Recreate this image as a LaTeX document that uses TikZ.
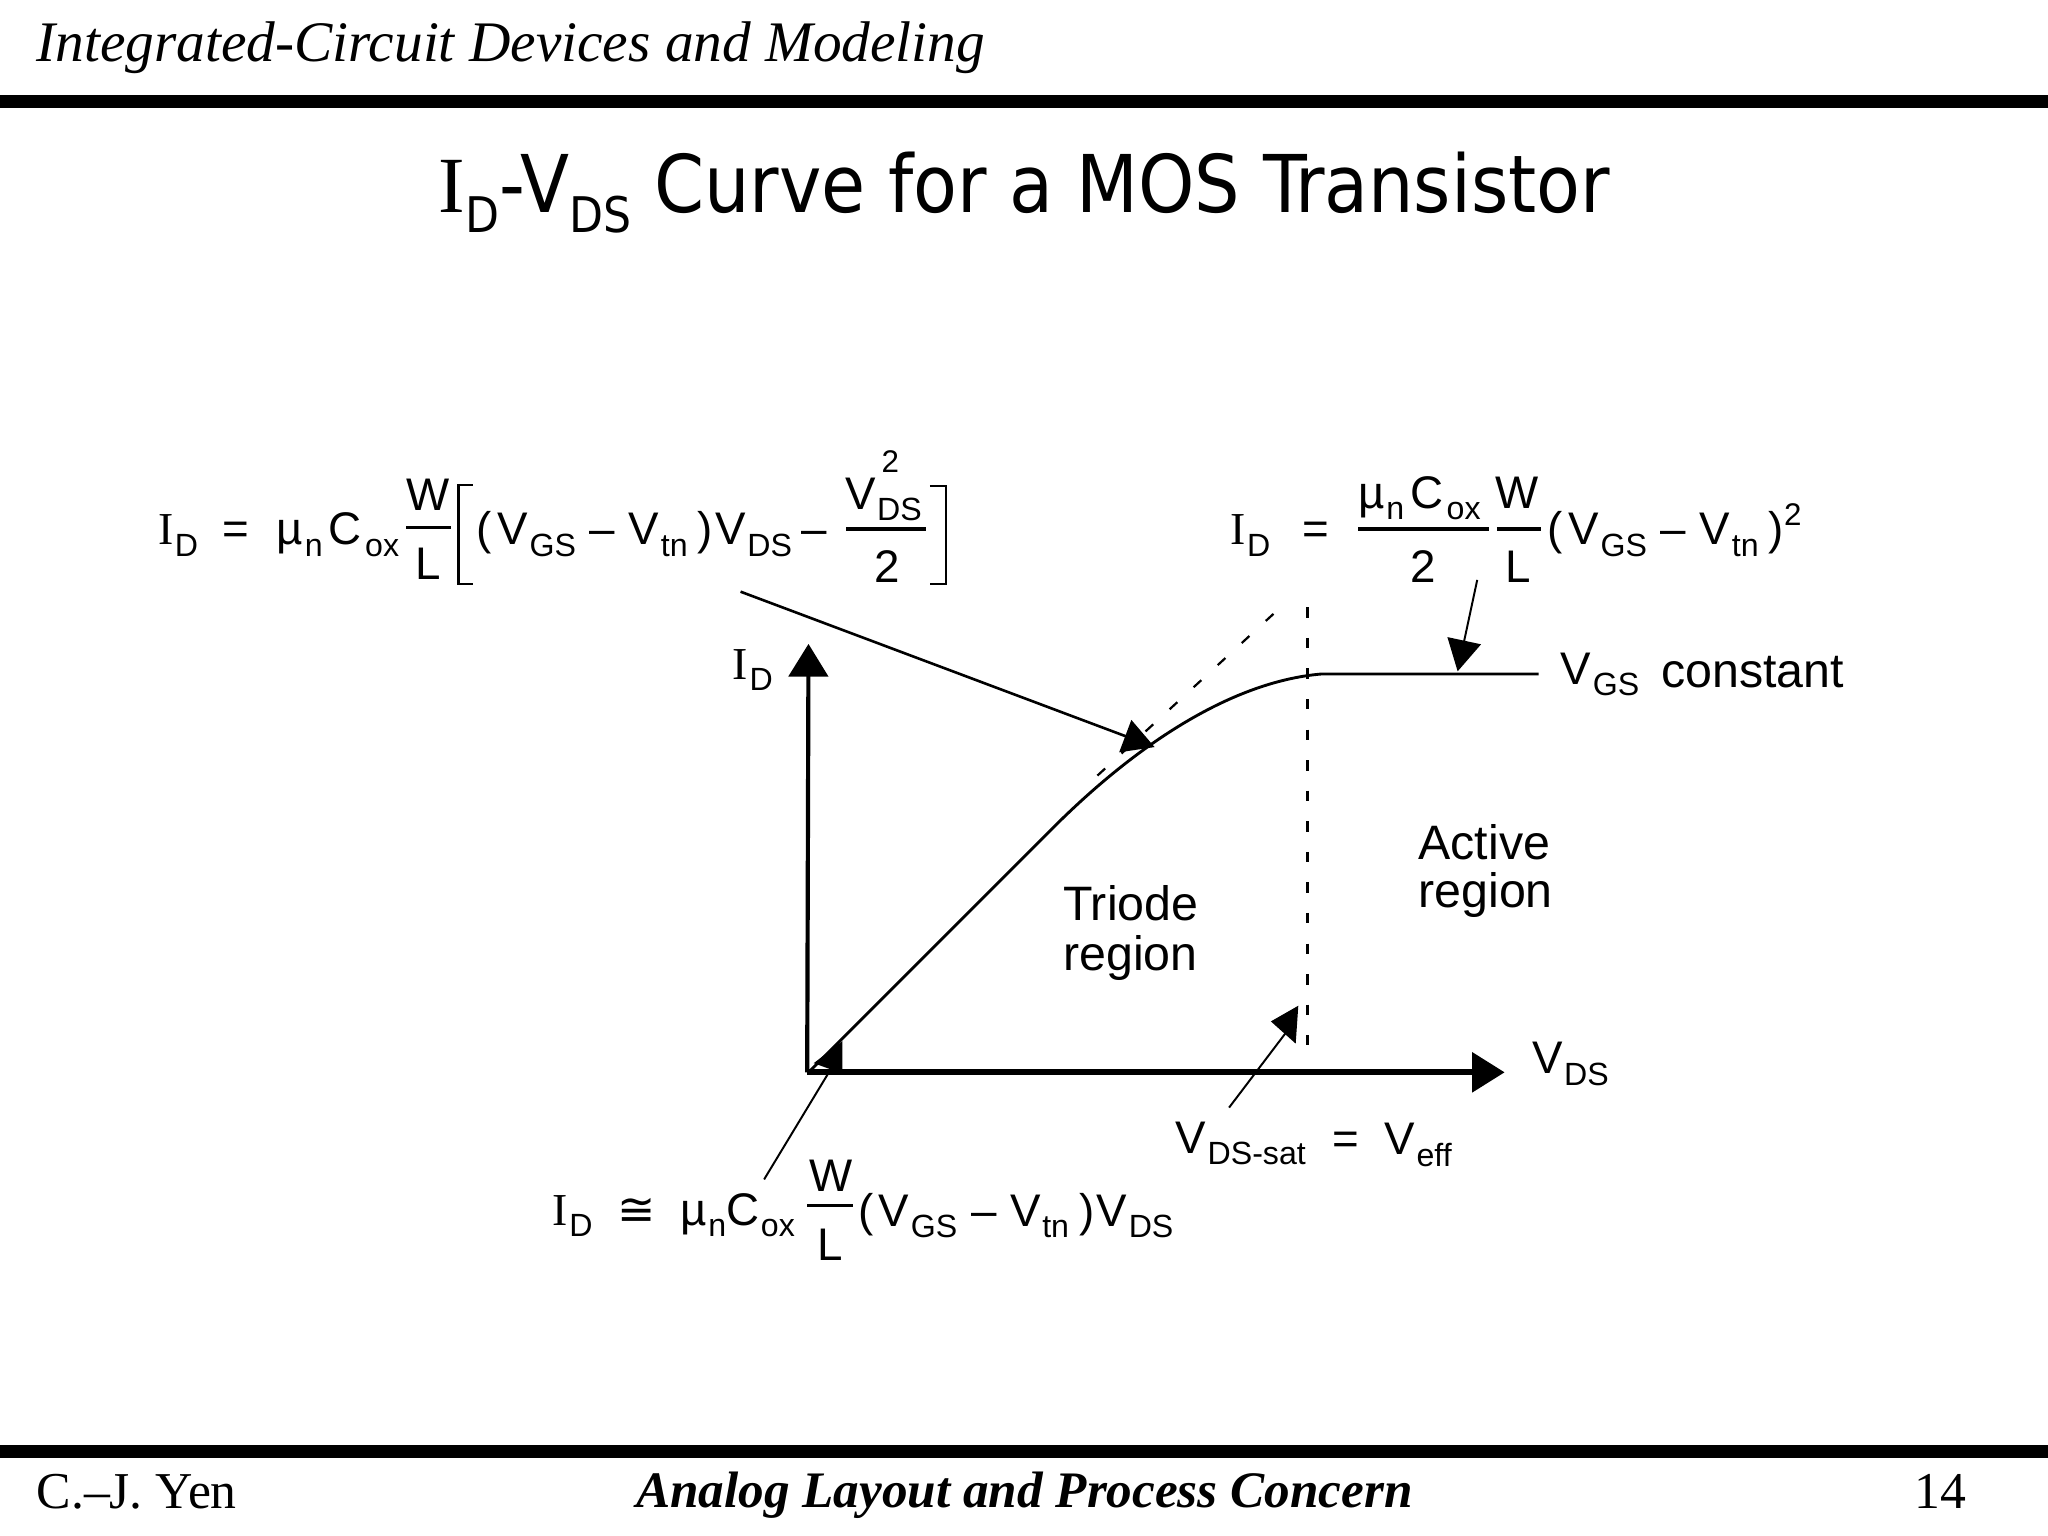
\documentclass[tikz,border=0pt]{standalone}
\usepackage{fontspec}
\setmainfont{Liberation Serif}
\setsansfont{Liberation Sans}
\newfontfamily\titlefont{DejaVu Sans Condensed}
\newfontfamily\symfont{DejaVu Sans}
\usetikzlibrary{arrows.meta}
\newcommand{\subt}[1]{\raisebox{-4.4pt}{\fontsize{12.3}{13}\selectfont\hspace{0.05em}#1}}
\newcommand{\capI}{{\rmfamily I}}
\newcommand{\vgsvtn}{(\hspace{.12em}V\subt{GS}\hspace{.3em}–\hspace{.3em}V\subt{tn}\hspace{.22em})}
\newcommand{\mucox}{µ\subt{n}\hspace{.13em}C\subt{\hspace{.06em}ox}}
\tikzset{
  x=0.5pt,y=-0.5pt,
  eq/.style={inner sep=0pt,outer sep=0pt,anchor=base west,font=\sffamily\fontsize{17.5}{20}\selectfont},
  eqc/.style={eq,anchor=base},
  lab/.style={eq,font=\sffamily\fontsize{18.5}{20}\selectfont},
  head/.style={inner sep=0pt,outer sep=0pt,anchor=base west},
  bar/.style={fill=black,draw=none},
  leader/.style={draw=black,line width=0.75pt},
  leadtip/.style={leader,-{Triangle[length=12pt,width=13pt]}},
  axisline/.style={draw=black,-{Triangle[length=12.5pt,width=15pt]}},
  dashv/.style={draw=black,line width=0.85pt,dash pattern=on 4pt off 7.7pt},
  dashs/.style={draw=black,line width=0.85pt,dash pattern=on 4pt off 8.5pt},
  rulel/.style={draw=black,line width=1.2pt},
  brk/.style={draw=black,line width=0.8pt}
}
\begin{document}
\begin{tikzpicture}
\useasboundingbox (0,0) rectangle (1568,1176);
\fill[white] (0,0) rectangle (1568,1176);
% header / footer
\fill[bar] (0,73) rectangle (1568,83);
\fill[bar] (0,1106) rectangle (1568,1116);
\node[head,font=\itshape\fontsize{21.95}{24}\selectfont] (hdr) at (28,47) {Integrated-Circuit Devices and Modeling};
\node[head,font=\fontsize{19.8}{22}\selectfont] (auth) at (28,1155) {C.–J. Yen};
\node[head,font=\bfseries\itshape\fontsize{19.6}{22}\selectfont] (course) at (487,1154) {Analog Layout and Process Concern};
\node[head,font=\fontsize{19.8}{22}\selectfont] (page) at (1466,1155) {14};
% title
\node[head,font=\titlefont\fontsize{30.5}{34}\selectfont] (title) at (336,163)
  {{\rmfamily I}\raisebox{-0.24em}{\fontsize{18.8}{20}\selectfont D}-V\raisebox{-0.24em}{\fontsize{18.8}{20}\selectfont DS} Curve for a MOS Transistor};
% equation 1
\node[eq] (a1) at (121,417) {\capI\subt{D}};
\node[eq] (a2) at (170,417) {=};
\node[eq] (a3) at (212,417) {\mucox};
\node[eqc] (a4) at (328,391) {W};
\draw[rulel] (311,404) -- (345,404);
\node[eqc] (a5) at (328,444) {L};
\draw[brk] (362,371) -- (351,371) -- (351,447) -- (362,447);
\node[eq] (a6) at (365,417) {\vgsvtn\hspace{.05em}V\subt{DS}\hspace{.2em}–};
\node[eq] (a7) at (647,390) {V\subt{DS}};
\node[eq,font=\sffamily\fontsize{12}{12}\selectfont] (a8) at (675,362) {2};
\draw[rulel] (648,405) -- (709,405);
\node[eqc] (a9) at (679,446) {2};
\draw[brk] (712,372) -- (724,372) -- (724,447) -- (712,447);
% equation 2
\node[eq] (b1) at (942,417) {\capI\subt{D}};
\node[eq] (b2) at (997,417) {=};
\node[eq] (b3) at (1040,389) {\mucox};
\draw[rulel] (1040,405) -- (1140,405);
\node[eqc] (b4) at (1090,446) {2};
\node[eq] (b5) at (1145,389) {W};
\draw[rulel] (1146,405) -- (1180,405);
\node[eqc] (b6) at (1162,446) {L};
\node[eq] (b7) at (1185,417) {\vgsvtn\raisebox{0.42em}{\fontsize{12}{12}\selectfont 2}};
% equation 3
\node[eq] (c1) at (423,938) {\capI\subt{D}};
\node[eq] (c2) at (473,938) {{\symfont ≅}};
\node[eq] (c3) at (521,938) {µ\subt{n}C\subt{ox}};
\node[eqc] (c4) at (636,912) {W};
\draw[rulel] (618,923) -- (653,923);
\node[eqc] (c5) at (636,965) {L};
\node[eq] (c6) at (657,939) {\vgsvtn\hspace{.05em}V\subt{DS}};
% plain labels
\node[eq] (idl) at (561,520) {\capI\subt{D}};
\node[eq] (vgs) at (1195,524) {V\subt{GS}};
\node[lab] (vgc) at (1272,526) {constant};
\node[eq] (vds) at (1173,822) {V\subt{DS}};
\node[eq] (vsat) at (900,883) {V\subt{DS-sat}};
\node[eq] (veq) at (1020,884) {=};
\node[eq] (veff) at (1060,884) {V\subt{eff}};
\node[lab] (tr1) at (814,705) {Triode};
\node[lab] (tr2) at (814,743) {region};
\node[lab] (ac1) at (1086,658) {Active};
\node[lab] (ac2) at (1086,695) {region};
% graph
\coordinate (o) at (618,821);
\coordinate (ytip) at (619,493);
\coordinate (xtip) at (1152,821);
\draw[axisline,line width=1.6pt] (o) -- (ytip);
\draw[axisline,line width=2.2pt] (o) -- (xtip);
\coordinate (cstart) at (620,820);
\coordinate (cend) at (1178,516);
\draw[draw=black,line width=1.1pt] (cstart) -- (806,634) .. controls (866,574) and (940,522) .. (1012,516) -- (cend);
\draw[dashs] (975,470) -- (840,594);
\draw[dashv] (1001,465) -- (1001,800);
% leaders
\coordinate (l1a) at (567,453); \coordinate (l1b) at (884,572);
\draw[leadtip,line width=1pt] (l1a) -- (l1b);
\coordinate (l2a) at (1131,444); \coordinate (l2b) at (1116,514);
\draw[leadtip] (l2a) -- (l2b);
\coordinate (l3a) at (941,848); \coordinate (l3b) at (985,790);
\draw[leader] (l3a) -- (l3b);
\fill (994,770) -- (973,782) -- (992,799) -- cycle;
\coordinate (l4a) at (585,903); \coordinate (l4b) at (634,822);
\draw[leader] (l4a) -- (l4b);
\fill (645,797) -- (623,814) -- (645,822) -- cycle;
\end{tikzpicture}
\end{document}
